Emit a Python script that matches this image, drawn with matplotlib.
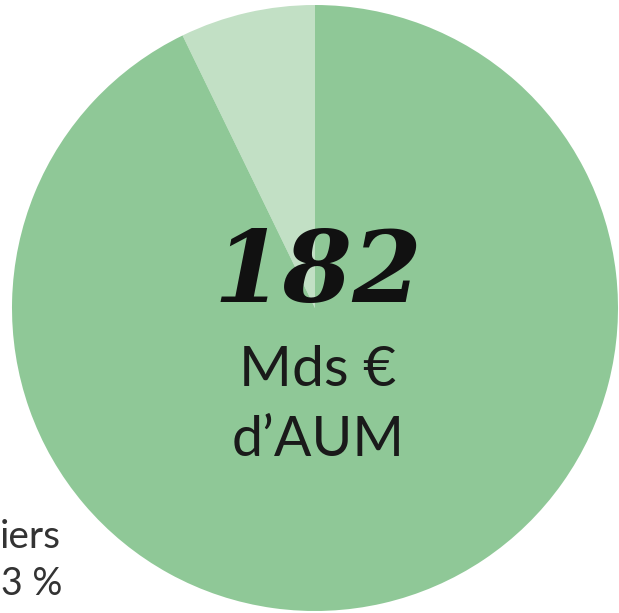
import matplotlib
matplotlib.use("Agg")
import matplotlib.pyplot as plt

# Data
categories = ["Particuliers", "Autres"]
values = [7.2, 92.8]
colors = ["#c2e0c5", "#8fc897"]
total_label = "182"
unit_lines = ["Mds €", "d’AUM"]
side_label = ["iers", "3 %"]

W, H = 619, 613
fig = plt.figure(figsize=(W / 100, H / 100), dpi=100)
ax = fig.add_axes([0, 0, 1, 1])

cx, cy, r = 315, H - 308, 303
ax.pie(values, colors=colors, startangle=90, counterclock=True,
       center=(cx, cy), radius=r, frame=True,
       wedgeprops=dict(linewidth=0))
ax.set_xlim(0, W)
ax.set_ylim(0, H)
ax.set_aspect("equal")
ax.axis("off")

def Y(y):
    return H - y

ax.text(318, Y(274), total_label, ha="center", va="center", fontsize=72,
        family="DejaVu Serif", style="italic", weight="bold", color="#111111")
ax.text(318, Y(370), unit_lines[0], ha="center", va="center", fontsize=41,
        family="Lato", weight="normal", color="#1a1a1a")
ax.text(318, Y(441), unit_lines[1], ha="center", va="center", fontsize=40,
        family="Lato", weight="normal", color="#1a1a1a")
ax.text(61, Y(537), side_label[0], ha="right", va="center", fontsize=28,
        family="Lato", weight="normal", color="#333333")
ax.text(1, Y(584), side_label[1], ha="left", va="center", fontsize=27,
        family="Lato", weight="normal", color="#333333")

fig.savefig("out.png", dpi=100)
